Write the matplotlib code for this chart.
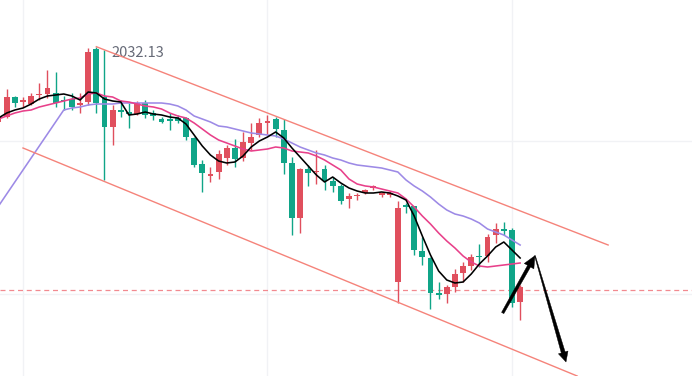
import numpy as np
import matplotlib.pyplot as plt
from matplotlib.patches import Polygon
from matplotlib.transforms import IdentityTransform

# candle index -1 is the partly cut candle at the left edge
idx = np.arange(-1, 64)

opens = [2024.6, 2025.1, 2027.1, 2026.6, 2026.4, 2027.3, 2027.4, 2027.5, 2026.8, 2026.9,
         2026.3, 2026.6, 2031.9, 2027.1, 2024.1, 2025.8, 2025.6, 2025.4, 2026.5, 2025.5,
         2024.9, 2024.9, 2025.0, 2025.0, 2023.0, 2020.4, 2019.2, 2019.6, 2021.0, 2022.0,
         2021.0, 2022.5, 2023.3, 2024.5, 2024.9, 2023.8, 2020.5, 2015.0, 2019.9, 2019.6,
         2019.9, 2018.7, 2018.2, 2016.9, 2017.2, 2017.5, 2018.0, 2017.3, 2017.3, 2008.6,
         2016.3, 2016.2, 2011.7, 2011.0, 2007.5, 2007.4, 2008.1, 2009.5, 2010.2, 2011.2,
         2011.2, 2013.3, 2013.9, 2013.8, 2006.6]
highs = [2025.3, 2027.9, 2027.2, 2027.1, 2027.5, 2028.5, 2029.8, 2029.6, 2027.2, 2027.5,
         2027.5, 2032.0, 2032.13, 2031.8, 2026.3, 2026.8, 2026.5, 2026.7, 2026.8, 2025.8,
         2025.1, 2025.5, 2025.3, 2025.1, 2023.1, 2020.8, 2020.1, 2021.8, 2022.3, 2022.9,
         2023.6, 2024.5, 2025.0, 2025.3, 2025.1, 2024.9, 2021.1, 2020.0, 2020.3, 2021.8,
         2020.3, 2019.1, 2018.4, 2017.5, 2017.5, 2017.9, 2018.3, 2017.6, 2017.7, 2016.7,
         2016.5, 2016.2, 2013.1, 2011.1, 2008.6, 2008.3, 2009.9, 2010.6, 2011.4, 2012.4,
         2013.4, 2014.5, 2014.6, 2014.0, 2008.3]
lows = [2024.4, 2025.0, 2026.1, 2026.1, 2026.3, 2026.8, 2027.0, 2026.1, 2025.8, 2025.8,
        2025.5, 2026.3, 2025.5, 2018.8, 2022.3, 2025.1, 2024.0, 2025.3, 2025.0, 2024.8,
        2024.5, 2023.8, 2024.5, 2022.8, 2020.1, 2017.6, 2018.6, 2018.9, 2020.3, 2020.1,
        2020.7, 2021.8, 2023.1, 2023.4, 2023.1, 2019.4, 2013.3, 2013.5, 2018.2, 2018.4,
        2017.8, 2017.6, 2016.4, 2016.0, 2016.8, 2017.4, 2017.8, 2017.1, 2017.1, 2006.5,
        2015.5, 2011.3, 2010.3, 2005.9, 2006.9, 2006.5, 2007.6, 2008.6, 2009.8, 2010.1,
        2010.6, 2012.5, 2013.3, 2006.1, 2004.8]
closes = [2025.1, 2027.1, 2026.5, 2026.8, 2027.2, 2027.4, 2028.0, 2026.5, 2026.7, 2026.1,
          2026.5, 2031.6, 2026.5, 2024.1, 2025.8, 2025.6, 2025.4, 2026.5, 2025.3, 2025.2,
          2024.6, 2024.7, 2024.7, 2023.1, 2020.3, 2019.5, 2019.4, 2021.4, 2022.0, 2020.9,
          2022.6, 2023.1, 2024.5, 2024.7, 2023.9, 2020.5, 2015.0, 2019.9, 2019.5, 2019.7,
          2018.7, 2018.2, 2016.7, 2017.2, 2017.3, 2017.8, 2018.2, 2017.5, 2017.5, 2016.0,
          2016.1, 2011.8, 2011.1, 2007.5, 2007.3, 2008.1, 2009.4, 2010.2, 2011.1, 2011.1,
          2013.1, 2013.9, 2013.7, 2006.5, 2008.1]

ma5 = [2025.0, 2025.5, 2025.8, 2026.0, 2026.4, 2026.9, 2027.2, 2027.3, 2027.4, 2027.2,
       2026.8, 2027.6, 2027.5, 2026.9, 2026.7, 2026.6, 2025.3, 2025.4, 2025.6, 2025.4,
       2025.3, 2025.1, 2025.0, 2024.4, 2023.3, 2022.2, 2021.3, 2020.7, 2020.5, 2020.6,
       2021.2, 2022.1, 2022.7, 2023.1, 2023.6, 2023.0, 2022.0, 2021.1, 2020.2, 2019.3,
       2018.6, 2019.1, 2018.5, 2018.0, 2017.7, 2017.5, 2017.5, 2017.6, 2017.5, 2017.2,
       2016.8, 2015.2, 2013.2, 2011.3, 2009.7, 2008.8, 2008.5, 2008.6, 2009.4, 2010.4,
       2011.2, 2012.1, 2012.6, 2011.8, 2011.0]
ma10 = [2024.9, 2025.2, 2025.5, 2025.7, 2025.8, 2026.1, 2026.3, 2026.5, 2026.7, 2026.9,
        2027.0, 2027.4, 2027.5, 2027.2, 2027.1, 2026.7, 2026.6, 2026.4, 2026.2, 2026.1,
        2025.9, 2025.5, 2025.2, 2025.0, 2024.5, 2023.9, 2023.3, 2022.8, 2022.5, 2022.2,
        2021.9, 2021.7, 2021.8, 2021.9, 2022.1, 2022.0, 2021.7, 2021.6, 2021.5, 2021.2,
        2020.8, 2020.3, 2019.8, 2018.9, 2018.4, 2018.2, 2018.1, 2017.9, 2017.7, 2017.5,
        2016.9, 2016.1, 2015.2, 2014.4, 2013.5, 2012.7, 2012.0, 2011.2, 2010.6, 2010.2,
        2010.1, 2010.2, 2010.3, 2010.4, 2010.5]
ma30 = [2016.2, 2017.4, 2018.6, 2019.8, 2021.0, 2022.2, 2023.4, 2024.6, 2025.8, 2026.0,
        2026.1, 2026.3, 2026.4, 2026.4, 2026.4, 2026.5, 2026.5, 2026.5, 2026.5, 2026.5,
        2026.5, 2026.4, 2026.2, 2025.8, 2025.2, 2024.9, 2024.6, 2024.2, 2024.1, 2023.9,
        2023.7, 2023.5, 2023.4, 2023.3, 2023.2, 2022.9, 2022.5, 2022.1, 2021.8, 2021.5,
        2021.3, 2021.0, 2020.8, 2020.5, 2020.3, 2020.2, 2020.1, 2020.0, 2019.8, 2019.6,
        2018.8, 2018.2, 2017.7, 2017.1, 2016.4, 2015.8, 2015.4, 2015.2, 2014.9, 2014.5,
        2013.9, 2013.6, 2013.3, 2012.8, 2012.3]

high_label = '2032.13'
last_price = 2007.8
grid_prices = [2022.7, 2007.4]
grid_bars = [2, 32, 62]

# hand-drawn channel and arrows (bar index, price)
upper_channel = ([11, 73.8], [2032.13, 2012.3])
lower_channel = ([2, 70], [2022.0, 1999.2])
arrow_up = ((60.86, 2005.5), (64.82, 2011.23))
arrow_down = ((64.82, 2011.23), (68.63, 2000.6))

UP = '#e04f5d'
DOWN = '#10a588'

fig = plt.figure(figsize=(6.92, 3.76), dpi=100)
ax = fig.add_axes([0, 0, 1, 1])
ax.set_xlim(-0.822, 84.09)
ax.set_ylim(1999.2, 2036.8)
ax.axis('off')

for g in grid_bars:
    ax.axvline(g, color='#f1f2f5', lw=1, zorder=0)
for g in grid_prices:
    ax.axhline(g, color='#f1f2f5', lw=1, zorder=0)

o = np.array(opens); c = np.array(closes)
colors = np.where(c >= o, UP, DOWN)
bottom = np.minimum(o, c)
height = np.maximum(np.abs(c - o), 0.12)
ax.vlines(idx, lows, highs, colors=colors, lw=1.0, zorder=2)
ax.bar(idx, height, bottom=bottom, width=0.72, color=colors, lw=0, zorder=2)

ax.plot(idx, ma30, color='#9d8ae6', lw=1.15, zorder=3)
ax.plot(idx, ma10, color='#e8408a', lw=1.15, zorder=3)
ax.plot(idx, ma5, color='black', lw=1.15, zorder=3)

ax.axhline(last_price, color='#f28a90', lw=0.9, ls=(0, (4, 3)), zorder=1)

ax.annotate(high_label, xy=(11, float(high_label)), xytext=(15, -6.5),
            textcoords='offset pixels', ha='left', va='center', fontsize=10.5,
            color='#666a77', family=['Noto Sans CJK SC', 'DejaVu Sans'], zorder=2.5)

ax.plot(*upper_channel, color='#f5837a', lw=1.0, zorder=4)
ax.plot(*lower_channel, color='#f5837a', lw=1.0, zorder=4)


def draw_arrow(start, end, w_tail, w_base, head_w, head_len):
    p0 = ax.transData.transform(start)
    p1 = ax.transData.transform(end)
    d = p1 - p0
    u = d / np.hypot(*d)
    n = np.array([-u[1], u[0]])
    b = p1 - u * head_len
    pts = [p0 + n * w_tail / 2, b + n * w_base / 2, b + n * head_w, p1,
           b - n * head_w, b - n * w_base / 2, p0 - n * w_tail / 2]
    ax.add_patch(Polygon(pts, closed=True, transform=IdentityTransform(),
                         facecolor='black', edgecolor='black', lw=0.3, zorder=5))


draw_arrow(arrow_up[0], arrow_up[1], 2.6, 3.4, 5.5, 12)
draw_arrow(arrow_down[0], arrow_down[1], 0.8, 4.0, 5.0, 10)

fig.savefig('out.png', dpi=100, facecolor='white')
